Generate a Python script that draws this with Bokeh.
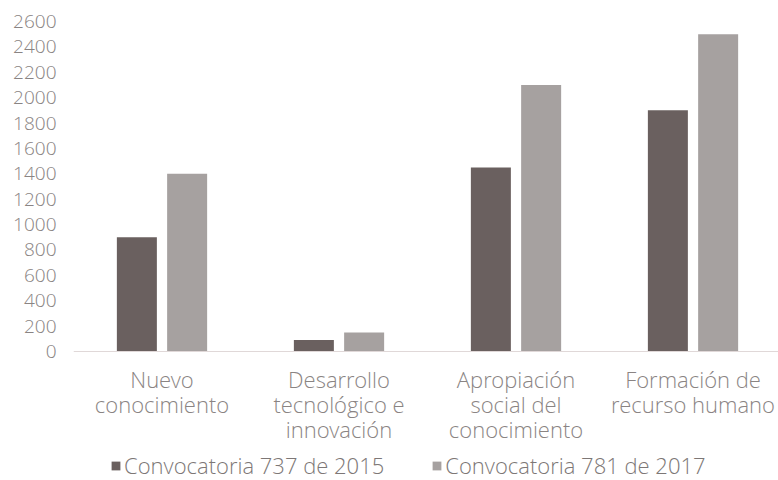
from bokeh.plotting import figure
from bokeh.models import ColumnDataSource, FixedTicker, Legend, LegendItem, Range1d, Span
from bokeh.core.properties import value
from bokeh.transform import dodge
from bokeh.embed import file_html
from bokeh.resources import INLINE

categories = ["Nuevo\nconocimiento", "Desarrollo\ntecnológico e\ninnovación",
              "Apropiación\nsocial del\nconocimiento", "Formación de\nrecurso humano"]
serie_2015 = [900, 90, 1450, 1900]
serie_2017 = [1400, 150, 2100, 2500]
series_names = ["Convocatoria 737 de 2015", "Convocatoria 781 de 2017"]
y_ticks = list(range(0, 2601, 200))

pos = [i + 0.5 for i in range(len(categories))]
src = ColumnDataSource(dict(x=pos, a=serie_2015, b=serie_2017,
                            cat=categories, base=[0] * len(categories)))

FONT = "'Noto Sans Light', 'Open Sans Light', 'Noto Sans', sans-serif"
Y_MAX = 2600
Y_MIN = -Y_MAX * 129 / 330  # room under the baseline for category labels and legend

p = figure(frame_width=705, frame_height=459, output_backend="svg", toolbar_location=None,
           x_range=Range1d(0, 3.983), y_range=Range1d(Y_MIN, Y_MAX),
           min_border_left=73, min_border_right=0, min_border_top=21, min_border_bottom=0)
p.outline_line_color = None
p.grid.visible = False
p.xaxis.visible = False

r1 = p.vbar(x=dodge("x", -0.142, range=p.x_range), top="a", width=0.226, source=src,
            color="#6a605f", line_color=None)
r2 = p.vbar(x=dodge("x", 0.142, range=p.x_range), top="b", width=0.226, source=src,
            color="#a6a1a0", line_color=None)

# baseline (category axis line)
p.add_layout(Span(location=0, dimension="width", line_color="#e0d8d8", line_width=1))

# category labels under the baseline
p.text(x="x", y="base", text="cat", source=src, text_align="center", text_baseline="top",
       y_offset=12, text_font=value(FONT), text_font_size="22px", text_color="#8a8483",
       text_line_height=0.84)

p.yaxis.ticker = FixedTicker(ticks=y_ticks)
p.yaxis.axis_line_color = None
p.yaxis.major_tick_line_color = None
p.yaxis.minor_tick_line_color = None
p.yaxis.major_label_text_font = FONT
p.yaxis.major_label_text_font_size = "19px"
p.yaxis.major_label_text_color = "#8a8483"
p.yaxis.major_label_standoff = 11

legend = Legend(items=[LegendItem(label=series_names[0], renderers=[r1]),
                       LegendItem(label=series_names[1], renderers=[r2])],
                orientation="horizontal", location=(37, 0),
                label_text_font=FONT, label_text_font_size="22px",
                label_text_color="#7d7776", glyph_width=11, glyph_height=11,
                spacing=47, label_standoff=3, margin=0, padding=0,
                border_line_color=None, background_fill_alpha=0)
p.add_layout(legend, "center")

open("out.html", "w").write(file_html(p, INLINE))
